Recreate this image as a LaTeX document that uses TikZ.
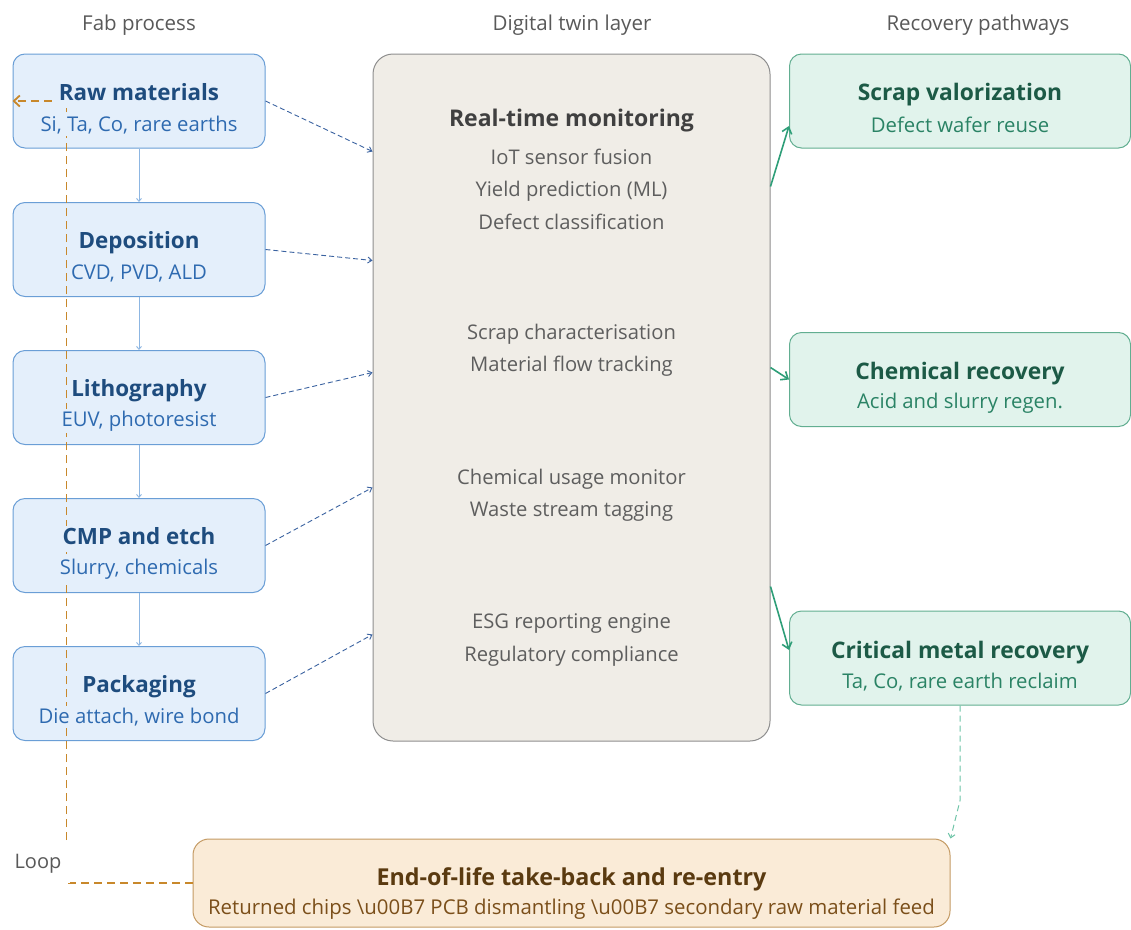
\documentclass[tikz,border=0pt]{standalone}
\usepackage{fontspec}
\setmainfont{Open Sans}
\usetikzlibrary{arrows.meta,calc}
\definecolor{fabfill}{HTML}{E4EFFB}
\definecolor{fabdraw}{HTML}{6A9ED6}
\definecolor{fabtitle}{HTML}{1E4C7E}
\definecolor{fabsub}{HTML}{2E6AB0}
\definecolor{twinfill}{HTML}{F0EDE7}
\definecolor{twindraw}{HTML}{8E8E8E}
\definecolor{twintitle}{HTML}{404040}
\definecolor{twintext}{HTML}{5E5E5E}
\definecolor{recfill}{HTML}{E1F3EC}
\definecolor{recdraw}{HTML}{62AE91}
\definecolor{rectitle}{HTML}{1C5A46}
\definecolor{recsub}{HTML}{2A8365}
\definecolor{recarrow}{HTML}{2E9E78}
\definecolor{recdash}{HTML}{6CC3A6}
\definecolor{eolfill}{HTML}{FAEBD7}
\definecolor{eoldraw}{HTML}{C49A63}
\definecolor{eoltitle}{HTML}{5A3A10}
\definecolor{eolsub}{HTML}{7B4F1A}
\definecolor{loopcol}{HTML}{C8882B}
\definecolor{headcol}{HTML}{595959}
\definecolor{flowblue}{HTML}{8DB6E2}
\definecolor{feedblue}{HTML}{3A62A0}
\tikzset{
  fabbox/.style={draw=fabdraw, fill=fabfill, line width=1pt, rounded corners=12pt, minimum width=252pt, minimum height=94pt, inner sep=0pt},
  recbox/.style={draw=recdraw, fill=recfill, line width=1pt, rounded corners=12pt, minimum width=341pt, minimum height=94pt, inner sep=0pt},
  uniform/.style={text height=17pt, text depth=5pt},
  fabhead/.style={uniform, text=fabtitle, font=\fontsize{22.4}{26}\selectfont\bfseries, inner sep=2pt},
  fabline/.style={text=fabsub, font=\fontsize{20.3}{23}\selectfont, inner sep=2pt},
  rechead/.style={uniform, text=rectitle, font=\fontsize{22.8}{26}\selectfont\bfseries, inner sep=2pt},
  recline/.style={text=recsub, font=\fontsize{20.3}{23}\selectfont, inner sep=2pt},
  colhead/.style={text=headcol, font=\fontsize{20.5}{24}\selectfont},
  twinhead/.style={uniform, text=twintitle, font=\fontsize{23}{26}\selectfont\bfseries},
  twinline/.style={text=twintext, font=\fontsize{20.2}{32.5}\selectfont, align=center},
  flow/.style={draw=flowblue, line width=0.9pt, -{Straight Barb[length=3pt,width=5pt]}},
  feed/.style={draw=feedblue, line width=0.9pt, dash pattern=on 5pt off 3pt, -{Straight Barb[length=4pt,width=6pt]}},
  recov/.style={draw=recarrow, line width=1.6pt, -{Straight Barb[length=6pt,width=10pt]}},
  loopline/.style={draw=loopcol, line width=1.8pt, dash pattern=on 8pt off 5pt, -{Straight Barb[length=6pt,width=11pt]}},
  eoldash/.style={draw=recdash, line width=1pt, dash pattern=on 6pt off 4pt, -{Straight Barb[length=4pt,width=7pt]}}
}
\begin{document}
\begin{tikzpicture}[x=1pt,y=-1pt]
\useasboundingbox (0,0) rectangle (1131,929);
% column headers
\node[colhead] (h1) at (139,25) {Fab process};
\node[colhead] (h2) at (572,25) {Digital twin layer};
\node[colhead] (h3) at (978,25) {Recovery pathways};
% boxes
\node[fabbox] (raw) at (139,101) {};
\node[fabbox] (dep) at (139,249.5) {};
\node[fabbox] (lit) at (139,397.5) {};
\node[fabbox] (cmp) at (139,545.5) {};
\node[fabbox] (pkg) at (139,693.5) {};
\node[draw=twindraw, fill=twinfill, line width=1pt, rounded corners=20pt, minimum width=397pt, minimum height=687pt, inner sep=0pt] (twin) at (571.5,397.5) {};
\node[recbox] (scrap) at (960,101) {};
\node[recbox] (chem) at (960,379.5) {};
\node[recbox] (crit) at (960,658) {};
\node[draw=eoldraw, fill=eolfill, line width=1pt, rounded corners=16pt, minimum width=757pt, minimum height=88pt, inner sep=0pt] (eol) at (571.5,883) {};
% loop line (under texts)
\draw[loopline] (eol.west) -| ($(raw.west)+(54,0)$) -- (raw.west);
\node[fill=white, minimum width=64pt, minimum height=38pt, inner sep=0pt, text=headcol, font=\fontsize{20}{24}\selectfont] (loop) at (38,864) {Loop};
% fab texts
\node[fabhead, fill=fabfill] (rawT) at (139,94.5) {Raw materials};
\node[fabline, fill=fabfill] (rawS) at (139,125) {Si, Ta, Co, rare earths};
\node[fabhead, fill=fabfill] (depT) at (139,242.5) {Deposition};
\node[fabline, fill=fabfill] (depS) at (139,273) {CVD, PVD, ALD};
\node[fabhead, fill=fabfill] (litT) at (139,390.5) {Lithography};
\node[fabline, fill=fabfill] (litS) at (139,421) {EUV, photoresist};
\node[fabhead, fill=fabfill] (cmpT) at (139,538.5) {CMP and etch};
\node[fabline, fill=fabfill] (cmpS) at (139,569) {Slurry, chemicals};
\node[fabhead, fill=fabfill] (pkgT) at (139,686.5) {Packaging};
\node[fabline, fill=fabfill] (pkgS) at (139,717) {Die attach, wire bond};
% twin texts
\node[twinhead] (rtm) at (571.5,120.5) {Real-time monitoring};
\node[twinline] (g1) at (571.5,189) {IoT sensor fusion\\Yield prediction (ML)\\Defect classification};
\node[twinline] (g2) at (571.5,350) {Scrap characterisation\\Material flow tracking};
\node[twinline] (g3) at (571.5,495) {Chemical usage monitor\\Waste stream tagging};
\node[twinline] (g4) at (571.5,640) {ESG reporting engine\\Regulatory compliance};
% recovery texts
\node[rechead] (scrapT) at (960,94.5) {Scrap valorization};
\node[recline] (scrapS) at (960,125) {Defect wafer reuse};
\node[rechead] (chemT) at (960,373.5) {Chemical recovery};
\node[recline] (chemS) at (960,403) {Acid and slurry regen.};
\node[rechead] (critT) at (960,652.5) {Critical metal recovery};
\node[recline] (critS) at (960,682) {Ta, Co, rare earth reclaim};
% eol texts
\node[uniform, text=eoltitle, font=\fontsize{23.3}{27}\selectfont\bfseries] (eolT) at (571.5,879.5) {End-of-life take-back and re-entry};
\node[text=eolsub, font=\fontsize{20.4}{24}\selectfont] (eolS) at (571.5,909) {Returned chips \textbackslash u00B7 PCB dismantling \textbackslash u00B7 secondary raw material feed};
% flow arrows
\draw[flow] (raw.south) -- (dep.north);
\draw[flow] (dep.south) -- (lit.north);
\draw[flow] (lit.south) -- (cmp.north);
\draw[flow] (cmp.south) -- (pkg.north);
% feed arrows to twin
\draw[feed] (raw.east) -- ($(twin.north west)+(0,98)$);
\draw[feed] (dep.east) -- ($(twin.north west)+(0,207)$);
\draw[feed] (lit.east) -- ($(twin.north west)+(0,319)$);
\draw[feed] (cmp.east) -- ($(twin.north west)+(0,434)$);
\draw[feed] (pkg.east) -- ($(twin.north west)+(0,581)$);
% recovery arrows
\draw[recov] ($(twin.north east)+(0,133)$) -- ($(scrap.west)+(0,25)$);
\draw[recov] ($(twin.north east)+(0,314)$) -- (chem.west);
\draw[recov] ($(twin.north east)+(0,533)$) -- ($(crit.west)+(0,-8)$);
% critical to eol
\coordinate (bend) at ($(crit.south)+(0,95)$);
\draw[eoldash] (crit.south) -- (bend) -- (eol.north east);
\end{tikzpicture}
\end{document}
